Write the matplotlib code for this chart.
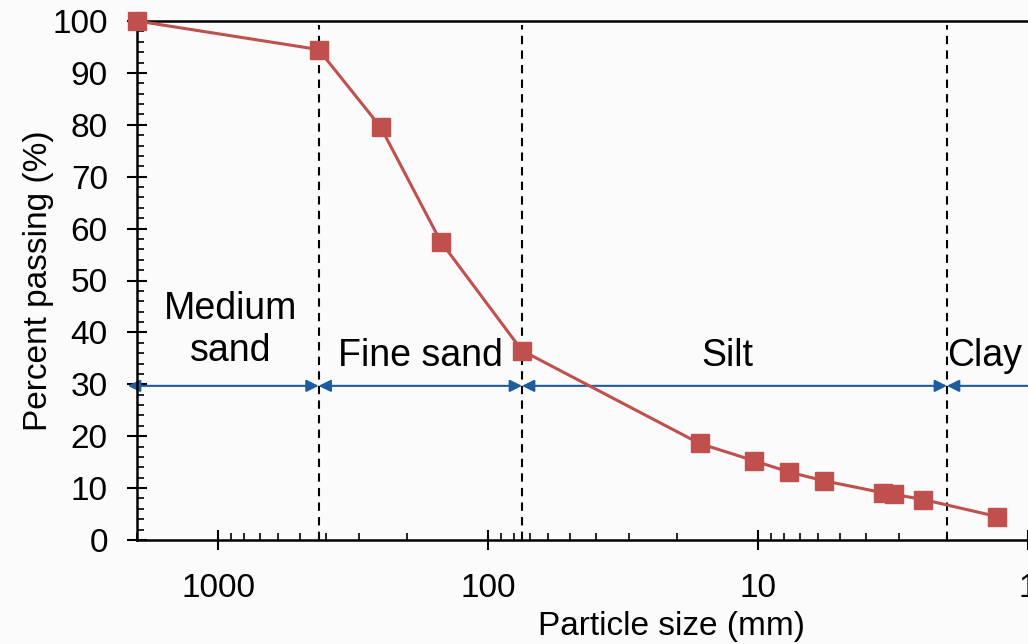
import matplotlib
matplotlib.use("Agg")
import matplotlib.pyplot as plt
from matplotlib.ticker import LogLocator, MultipleLocator, FixedLocator, NullFormatter

plt.rcParams['font.family'] = ['Liberation Sans', 'DejaVu Sans']

# Data (particle size, percent passing)
size = [2000, 425, 250, 150, 75, 16.5, 10.4, 7.7, 5.7, 3.45, 3.15, 2.45, 1.3]
passing = [100, 94.5, 79.5, 57.5, 36.5, 18.6, 15.3, 13.1, 11.4, 9.1, 8.8, 7.8, 4.5]

boundaries = [425, 75, 2]
zone_names = ["Medium\nsand", "Fine sand", "Silt", "Clay"]
zone_label_x = [900, 178, 13, 1.45]
zone_label_y = [40.5, 35.5, 35.5, 35.5]
arrow_ends = [(2160, 425), (425, 75), (75, 2), (2, 0.83)]
arrow_y = 29.7

W, H = 1028, 644
fig = plt.figure(figsize=(W / 100, H / 100), dpi=100)
fig.patch.set_facecolor('#fbfbfb')
left_px, right_px, top_px, bot_px = 137, 1040.6, 21, 540
ax = fig.add_axes([left_px / W, (H - bot_px) / H, (right_px - left_px) / W, (bot_px - top_px) / H])
ax.set_facecolor('#fbfbfb')

ax.set_xscale('log')
ax.set_xlim(2000, 0.9)
ax.set_ylim(0, 100)

for b in boundaries:
    ax.axvline(b, ymin=0, ymax=0.992, color='black', lw=1.5, ls=(0, (4, 3)), zorder=1)

for (a, b) in arrow_ends:
    ax.annotate('', xy=(b, arrow_y), xytext=(a, arrow_y),
                arrowprops=dict(arrowstyle='<|-|>', color='#1F5C9E', lw=1.5,
                                mutation_scale=18, shrinkA=0, shrinkB=0),
                annotation_clip=False, zorder=2)

for name, xx, yy in zip(zone_names, zone_label_x, zone_label_y):
    ax.text(xx, yy, name, ha='center', va='center', fontsize=27, linespacing=1.2, zorder=3)

ax.plot(size, passing, color='#C0504D', lw=2.2, marker='s', markersize=12.5,
        markerfacecolor='#C0504D', markeredgecolor='#C0504D', zorder=4, clip_on=False)

ax.yaxis.set_major_locator(MultipleLocator(10))
ax.yaxis.set_minor_locator(MultipleLocator(2))
ax.xaxis.set_major_locator(FixedLocator([1000, 100, 10, 1]))
ax.xaxis.set_major_formatter(plt.FuncFormatter(lambda v, p: f"{v:g}"))
ax.xaxis.set_minor_locator(LogLocator(base=10, subs=range(2, 10)))
ax.xaxis.set_minor_formatter(NullFormatter())

ax.tick_params(axis='both', which='major', direction='inout', length=14, width=1.5,
               labelsize=24, color='black')
ax.tick_params(axis='both', which='minor', direction='in', length=5, width=1.2)
ax.tick_params(axis='y', which='major', pad=14)
ax.tick_params(axis='x', which='major', pad=17)

for s in ['left', 'bottom', 'top']:
    ax.spines[s].set_linewidth(1.8)
ax.spines['right'].set_visible(False)

ax.set_ylabel('Percent passing (%)', fontsize=24)
ax.yaxis.label.set_va('center')
ax.yaxis.set_label_coords(-0.109, 0.5)
ax.set_xlabel('Particle size (mm)', fontsize=24)
ax.xaxis.set_label_coords(0.592, -0.166)
ax.xaxis.label.set_va('center')

fig.savefig('out.png', dpi=100, facecolor=fig.get_facecolor())
